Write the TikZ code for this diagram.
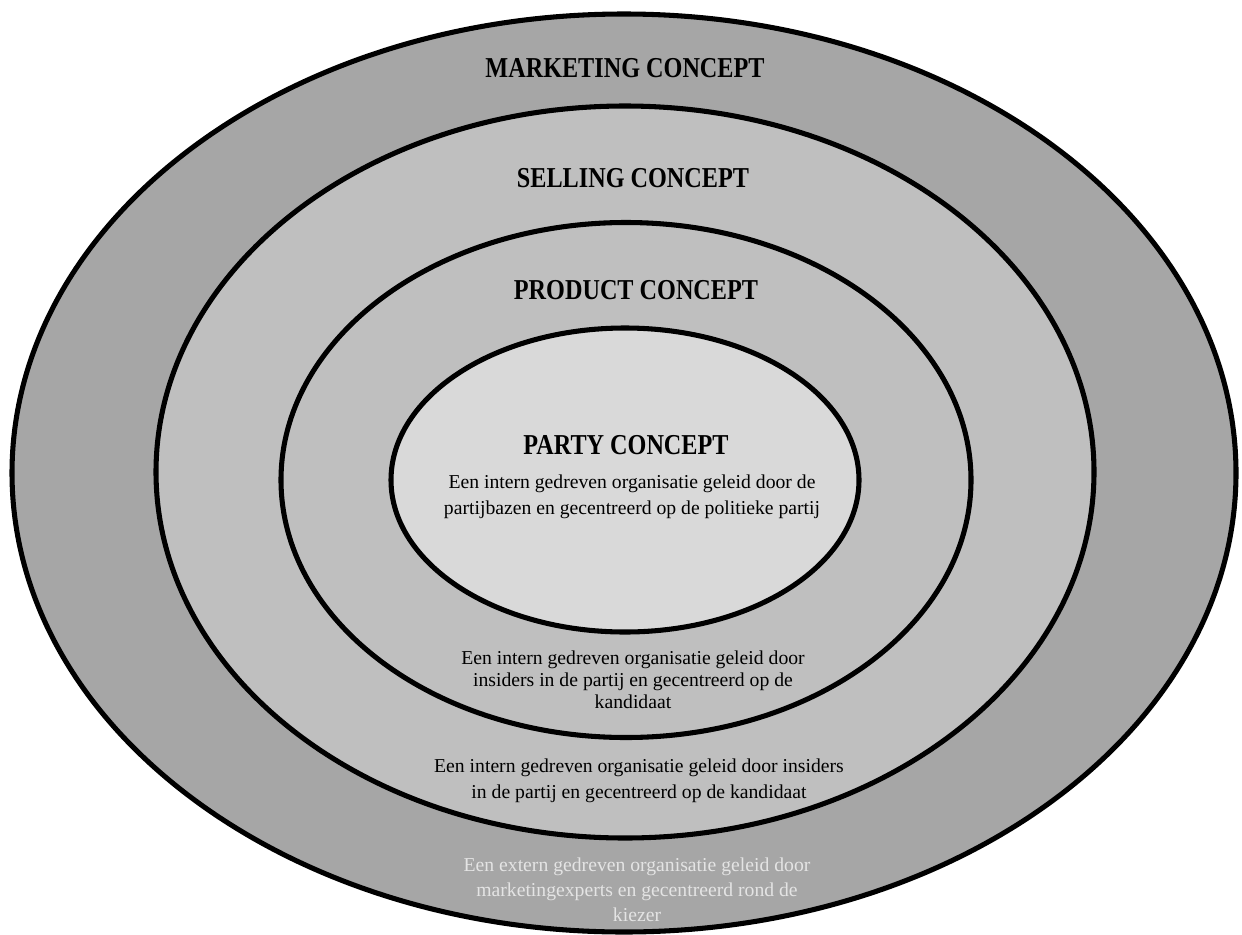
\documentclass[tikz,border=0pt]{standalone}
\usepackage{fontspec}
\setmainfont{Liberation Serif}
\usepackage{tikz}
\usetikzlibrary{shapes.geometric, positioning}

\definecolor{ringdark}{HTML}{A6A6A6}
\definecolor{ringmid}{HTML}{BFBFBF}
\definecolor{ringlight}{HTML}{D9D9D9}
\definecolor{textpale}{HTML}{E4E4E4}

% headings are set a little narrower than the plain bold face
\newcommand{\headtext}[1]{\scalebox{0.84}[1]{#1}}

\tikzset{
  ring/.style={ellipse, draw=black, line width=3.6pt, inner sep=0pt},
  title/.style={font=\fontsize{20.5}{25}\selectfont\bfseries},
  blurb/.style={align=center, font=\fontsize{14}{18.4}\selectfont}
}

\begin{document}
\begin{tikzpicture}[x=0.025cm, y=-0.025cm]
            \useasboundingbox (0,0) rectangle (1242,934);
            % nested concepts, outside in
            \node[ring, fill=ringdark, minimum width=1224*0.025cm, minimum height=918*0.025cm] (market) at (624,473) {};
            \node[ring, fill=ringmid, minimum width=938*0.025cm, minimum height=732*0.025cm] (sell) at (625,472) {};
            \node[ring, fill=ringmid, minimum width=690*0.025cm, minimum height=515*0.025cm] (prod) at (626,480) {};
            \node[ring, fill=ringlight, minimum width=468*0.025cm, minimum height=304*0.025cm] (party) at (625,480) {};

            \node[title] (tmarket) at (625,68) {\headtext{MARKETING CONCEPT}};
            \node[title] (tsell) at (633,178) {\headtext{SELLING CONCEPT}};
            \node[title] (tprod) at (636,290) {\headtext{PRODUCT CONCEPT}};
            \node[title] (tparty) at (626,445) {\headtext{PARTY CONCEPT}};

            \node[blurb, below=7pt of tparty, xshift=6*0.025cm] (dparty) {Een intern gedreven organisatie geleid door de\\partijbazen en gecentreerd op de politieke partij};
            \node[blurb, font=\fontsize{14}{15.6}\selectfont] (dprod) at (633,680) {Een intern gedreven organisatie geleid door\\insiders in de partij en gecentreerd op de\\kandidaat};
            \node[blurb] (dsell) at (639,781) {Een intern gedreven organisatie geleid door insiders\\in de partij en gecentreerd op de kandidaat};
            \node[blurb, text=textpale, font=\fontsize{14}{17.7}\selectfont] (dmarket) at (637,890) {Een extern gedreven organisatie geleid door\\marketingexperts en gecentreerd rond de\\kiezer};
\end{tikzpicture}
\end{document}
